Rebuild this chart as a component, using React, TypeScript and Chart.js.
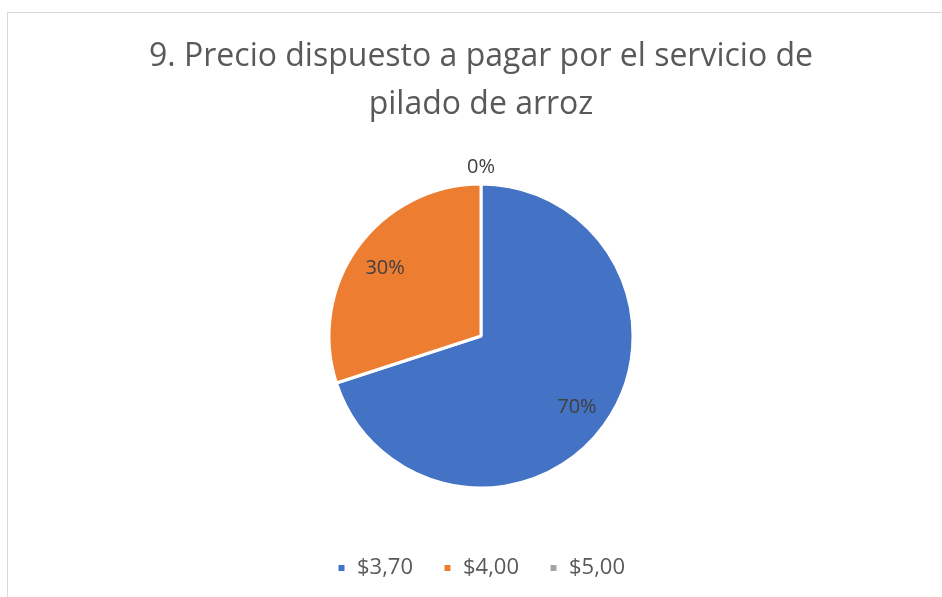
import React, { useEffect, useRef } from "react";
import { Chart, registerables } from "chart.js";

Chart.register(...registerables);

const titleLines = ["9. Precio dispuesto a pagar por el servicio de", "pilado de arroz"];
const categories = ["$3,70", "$4,00", "$5,00"];
const shares = [70, 30, 0];
const sliceColors = ["#4472C4", "#ED7D31", "#A5A5A5"];

const FONT = "'Open Sans', 'Noto Sans', sans-serif";

const pieLabels = {
  id: "pieLabels",
  afterDatasetsDraw(chart: any) {
    const meta = chart.getDatasetMeta(0);
    const data = chart.data.datasets[0].data as number[];
    const total = data.reduce((a, b) => a + b, 0);
    const ctx = chart.ctx;
    ctx.save();
    ctx.font = `20px ${FONT}`;
    ctx.fillStyle = "#404040";
    ctx.textAlign = "center";
    ctx.textBaseline = "middle";
    meta.data.forEach((arc: any, i: number) => {
      const { x, y, startAngle, endAngle, outerRadius } = arc.getProps(
        ["x", "y", "startAngle", "endAngle", "outerRadius"],
        true
      );
      const mid = (startAngle + endAngle) / 2;
      const v = data[i];
      const r = v > 0 ? outerRadius * 0.78 : outerRadius + 19;
      const label = Math.round((v / total) * 100) + "%";
      ctx.fillText(label, x + Math.cos(mid) * r, y + Math.sin(mid) * r + 2);
    });
    ctx.restore();
  },
};

export default function App() {
  const ref = useRef<HTMLCanvasElement>(null);
  useEffect(() => {
    if (!ref.current) return;
    const chart = new Chart(ref.current, {
      type: "pie",
      data: {
        labels: categories,
        datasets: [
          {
            data: shares,
            backgroundColor: sliceColors,
            borderColor: "#ffffff",
            borderWidth: 3,
            radius: 152,
          } as any,
        ],
      },
      options: {
        responsive: false,
        animation: false,
        layout: { padding: { left: 26, right: 6, top: 0, bottom: 8 } },
        plugins: {
          tooltip: { enabled: false },
          title: {
            display: true,
            text: titleLines,
            color: "#595959",
            font: { family: FONT, size: 32, weight: "normal", lineHeight: 48 / 32 },
            padding: { top: 33, bottom: 16 },
          },
          legend: {
            position: "bottom",
            labels: {
              color: "#595959",
              font: { family: FONT, size: 22 },
              boxWidth: 9,
              boxHeight: 9,
              padding: 30,
            },
          },
        },
      },
      plugins: [pieLabels],
    });
    return () => chart.destroy();
  }, []);
  return (
    <div style={{ position: "fixed", left: 0, top: 0, width: 942, height: 597, background: "#fff", overflow: "hidden" }}>
      <div
        style={{
          position: "absolute",
          left: 7,
          top: 12,
          width: 960,
          height: 620,
          borderLeft: "1px solid #d9d9d9",
          borderTop: "1px solid #d9d9d9",
        }}
      />
      <canvas ref={ref} width={942} height={597} style={{ position: "absolute", left: 0, top: 0 }} />
    </div>
  );
}
